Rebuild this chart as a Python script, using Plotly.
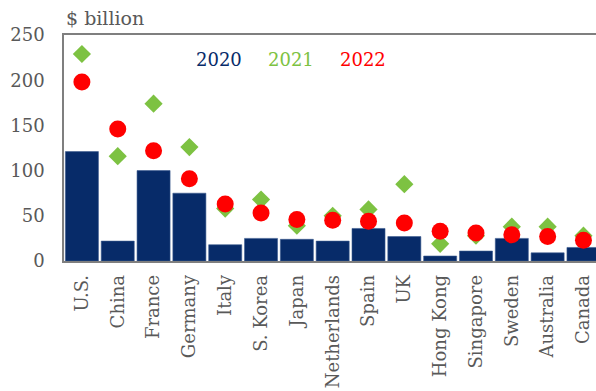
import plotly.graph_objects as go

# Countries and yearly values ($ billion)
countries = ["U.S.", "China", "France", "Germany", "Italy", "S. Korea", "Japan",
             "Netherlands", "Spain", "UK", "Hong Kong", "Singapore", "Sweden",
             "Australia", "Canada"]
values_2020 = [121, 22, 100, 75, 18, 25, 24, 22, 36, 27, 5.5, 11, 25, 9, 15]
values_2021 = [229, 116, 174, 126, 58, 68, 39, 50, 57, 85, 19, 28, 38, 38, 28]
values_2022 = [198, 146, 122, 91, 63, 53, 46, 45, 44, 42, 33, 31, 29, 27, 23]
y_ticks = [0, 50, 100, 150, 200, 250]

NAVY = "#072b69"
GREEN = "#7dc242"
RED = "#ff0000"
GREY = "#595959"
FONT = "DejaVu Serif, Liberation Serif, serif"

fig = go.Figure()
fig.add_trace(go.Bar(x=countries, y=values_2020, name="2020",
                     marker=dict(color=NAVY, line=dict(color="#3b5a8f", width=0.6))))
fig.add_trace(go.Scatter(x=countries, y=values_2021, name="2021", mode="markers",
                         marker=dict(symbol="diamond", size=14, color=GREEN),
                         cliponaxis=False))
fig.add_trace(go.Scatter(x=countries, y=values_2022, name="2022", mode="markers",
                         marker=dict(symbol="circle", size=17, color=RED),
                         cliponaxis=False))

# Legend written as coloured labels inside the plot
for label, color, xc in [("2020", NAVY, 219), ("2021", GREEN, 291), ("2022", RED, 363)]:
    fig.add_annotation(x=(xc - 64) / 532, y=(261 - 60) / 226, xref="paper", yref="paper",
                       text=label, showarrow=False,
                       font=dict(family=FONT, size=18, color=color),
                       xanchor="center", yanchor="middle")

fig.add_annotation(x=0, y=1, xref="paper", yref="paper", text="$ billion",
                   showarrow=False, xanchor="left", yanchor="bottom", yshift=4,
                   font=dict(family=FONT, size=19, color=GREY))

fig.update_layout(
    width=596, height=391,
    margin=dict(l=64, r=0, t=35, b=130),
    paper_bgcolor="white", plot_bgcolor="white",
    showlegend=False, bargap=0.078,
    font=dict(family=FONT, color=GREY),
)
fig.update_xaxes(range=[-0.5, 14.35], showline=True, mirror=True,
                 linecolor="#7f7f7f", linewidth=1.5, showgrid=False,
                 tickangle=-90, tickfont=dict(family=FONT, size=18, color=GREY),
                 ticks="", ticklabelstandoff=5, automargin=False)
fig.update_yaxes(range=[0, 250], tickvals=y_ticks, showline=True,
                 linecolor="#7f7f7f", linewidth=1.5, showgrid=False, zeroline=False,
                 tickfont=dict(family=FONT, size=18, color=GREY),
                 ticks="", ticklabelstandoff=14, automargin=False)

fig.write_html("out.html")
